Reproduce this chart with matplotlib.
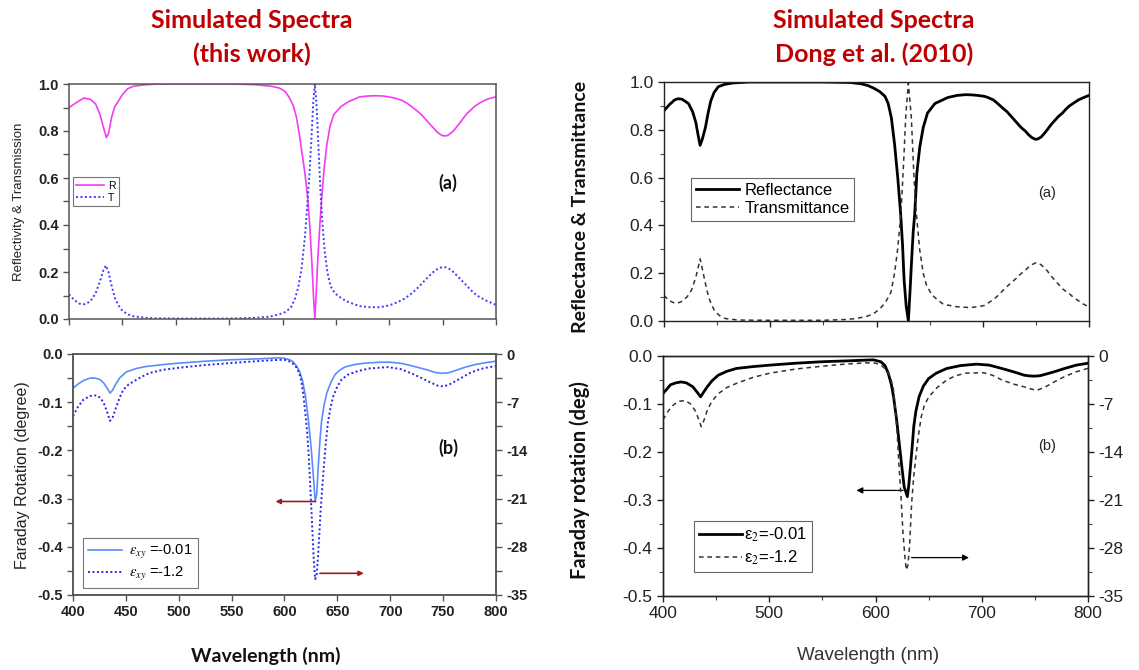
import matplotlib
matplotlib.use('Agg')
import matplotlib.pyplot as plt
from matplotlib.ticker import MultipleLocator, FixedLocator, FormatStrFormatter
from matplotlib.lines import Line2D

plt.rcParams['font.family'] = ['Liberation Sans', 'DejaVu Sans']
plt.rcParams['mathtext.fontset'] = 'stix'
plt.rcParams['axes.unicode_minus'] = False

# ---------------- data: this work ----------------
wl_R_this = [400, 405, 410, 414, 420, 425, 429, 432, 435, 437, 440, 443, 446, 450, 455, 460, 470, 480,
             500, 550, 575, 590, 597, 602, 606, 610, 613, 616, 618.5, 621, 623.5, 625.5, 627.5, 629,
             630.3, 631.5, 633, 635, 637, 639, 641.5, 644.5, 648, 655, 662, 672, 680, 687, 694, 700,
             706, 712, 717, 722, 726, 730, 734, 738, 742, 745, 748, 750, 753, 755, 758, 760, 764, 767,
             770, 773, 777, 780, 785, 790, 795, 800]
R_this = [0.90, 0.915, 0.93, 0.94, 0.935, 0.915, 0.87, 0.82, 0.772, 0.79, 0.86, 0.905, 0.925, 0.955,
          0.98, 0.99, 0.996, 0.999, 1.0, 1.0, 0.997, 0.99, 0.983, 0.97, 0.945, 0.91, 0.86, 0.78, 0.70,
          0.62, 0.52, 0.40, 0.24, 0.10, 0.0, 0.10, 0.25, 0.40, 0.53, 0.64, 0.74, 0.82, 0.87, 0.905,
          0.925, 0.945, 0.949, 0.95, 0.949, 0.945, 0.939, 0.93, 0.917, 0.90, 0.886, 0.87, 0.85, 0.83,
          0.81, 0.795, 0.785, 0.78, 0.779, 0.782, 0.792, 0.80, 0.822, 0.84, 0.858, 0.875, 0.892, 0.905,
          0.92, 0.932, 0.94, 0.945]

wl_T_this = [400, 405, 410, 415, 420, 425, 429, 432, 434.5, 437, 440, 443, 446, 450, 455, 460, 470, 480,
             500, 550, 575, 588, 597, 603, 608, 612, 615, 618, 621, 623, 625, 627, 628.8, 630.3, 631.8,
             633.5, 635.5, 637.5, 639.5, 642, 645, 649, 653, 660, 672, 682, 691, 700, 708, 714, 720,
             725, 730, 735, 740, 743, 747, 750, 753, 755, 758, 760, 764, 768, 772, 775, 779, 782, 786,
             790, 795, 800]
T_this = [0.105, 0.08, 0.065, 0.063, 0.075, 0.11, 0.16, 0.205, 0.228, 0.20, 0.14, 0.09, 0.06, 0.035,
          0.02, 0.012, 0.006, 0.003, 0.002, 0.002, 0.005, 0.01, 0.02, 0.03, 0.05, 0.09, 0.14, 0.22,
          0.35, 0.47, 0.60, 0.76, 0.92, 1.0, 0.92, 0.75, 0.55, 0.40, 0.29, 0.20, 0.14, 0.11, 0.095,
          0.075, 0.055, 0.05, 0.05, 0.058, 0.072, 0.086, 0.105, 0.125, 0.148, 0.172, 0.195, 0.207,
          0.217, 0.221, 0.22, 0.217, 0.208, 0.20, 0.182, 0.163, 0.145, 0.13, 0.112, 0.10, 0.09, 0.08,
          0.07, 0.06]

wl_F1_this = [400, 405, 410, 416, 421, 425.5, 429, 432, 435, 437.5, 440, 444, 450.5, 460, 469, 485, 500,
              525, 549, 575, 595, 600, 605, 608, 611, 614, 617, 620, 622.5, 625, 627, 629, 630.5, 632,
              633.5, 635, 637.5, 640, 644, 648, 652, 657, 666, 676, 690, 700, 712, 723, 735, 742, 748,
              755, 762, 770, 780, 790, 800]
F1_this = [-0.071, -0.062, -0.055, -0.050, -0.050, -0.053, -0.060, -0.070, -0.081, -0.075, -0.064,
           -0.050, -0.037, -0.030, -0.026, -0.022, -0.019, -0.015, -0.012, -0.010, -0.008, -0.009,
           -0.012, -0.016, -0.024, -0.035, -0.055, -0.090, -0.135, -0.19, -0.245, -0.306, -0.29,
           -0.23, -0.18, -0.14, -0.105, -0.081, -0.058, -0.042, -0.034, -0.027, -0.022, -0.019,
           -0.017, -0.017, -0.020, -0.026, -0.033, -0.038, -0.040, -0.039, -0.034, -0.028, -0.022,
           -0.018, -0.015]

wl_F2_this = [400, 405, 410, 416, 422.5, 426, 429, 432, 435, 437.5, 440, 444, 447.5, 452, 457, 465,
              472.5, 485, 500, 525, 550, 573, 595, 600, 605, 608, 611, 614, 616, 618, 620, 621.5, 623,
              624.5, 626, 627.7, 629, 630.5, 631.7, 633, 634, 635.5, 637, 639, 641, 643.5, 646, 650,
              654, 660, 669, 680, 698, 710, 723, 731, 739, 745, 750, 755, 761, 768, 776, 785, 792, 800]
F2_this = [-9.0, -7.6, -6.6, -6.1, -6.0, -6.4, -7.1, -8.3, -9.7, -9.2, -8.1, -6.4, -5.2, -4.5, -4.0,
           -3.3, -2.75, -2.3, -2.0, -1.6, -1.3, -1.05, -0.85, -0.85, -1.1, -1.4, -1.9, -2.8, -4.0,
           -6.2, -9.0, -11.5, -15.0, -19.6, -24.5, -30.0, -32.7, -32.0, -29.4, -26.0, -23.1, -19.8,
           -16.8, -13.0, -10.0, -7.8, -6.2, -4.7, -3.7, -3.0, -2.5, -2.1, -1.9, -2.2, -3.0, -3.6,
           -4.2, -4.6, -4.7, -4.5, -4.0, -3.4, -2.7, -2.2, -1.95, -1.75]

# ---------------- data: Dong et al. (2010) ----------------
wl_R_dong = [400, 405, 410, 413, 417, 423, 427, 430, 432, 434, 436, 439, 441.5, 444, 447, 451, 457, 465,
             480, 500, 550, 575, 585, 592, 597, 603, 608, 611, 614, 617, 620, 622.7, 624.5, 626, 628,
             630, 631.5, 633, 634.5, 636, 638, 640.8, 644, 648, 655, 667, 676, 684, 690, 695, 701.6,
             705, 710, 714, 719, 723, 728, 732, 736, 740, 743, 746, 749.6, 752, 755, 758, 760.7, 764,
             768, 771, 775, 778, 781.6, 785, 790, 795, 800]
R_dong = [0.88, 0.905, 0.925, 0.93, 0.928, 0.91, 0.875, 0.83, 0.78, 0.735, 0.76, 0.81, 0.87, 0.92,
          0.955, 0.98, 0.99, 0.996, 1.0, 1.0, 1.0, 0.998, 0.993, 0.985, 0.975, 0.96, 0.94, 0.91, 0.85,
          0.74, 0.60, 0.45, 0.32, 0.17, 0.06, 0.0, 0.12, 0.25, 0.37, 0.45, 0.62, 0.73, 0.81, 0.87,
          0.91, 0.935, 0.944, 0.947, 0.946, 0.944, 0.94, 0.935, 0.925, 0.91, 0.89, 0.875, 0.85, 0.83,
          0.81, 0.795, 0.78, 0.768, 0.76, 0.762, 0.77, 0.785, 0.80, 0.82, 0.84, 0.855, 0.87, 0.885,
          0.90, 0.91, 0.925, 0.935, 0.944]

wl_T_dong = [400, 405, 411, 416, 421.6, 426, 430, 432.5, 434, 436, 439, 442, 445, 448, 453, 458, 470,
             500, 550, 570, 580, 590, 597, 603, 608, 613.6, 617, 619.9, 623, 625.5, 627.7, 630, 632.8,
             635.3, 637.5, 640.6, 644, 647, 652, 657, 662.9, 675, 688, 696, 701.6, 705, 710, 714, 719,
             723, 728, 732, 736, 740, 743, 746, 749.6, 752, 755, 758, 760.7, 764, 768, 771, 775, 778,
             781.6, 785, 790, 795, 800]
T_dong = [0.107, 0.085, 0.073, 0.08, 0.10, 0.13, 0.184, 0.23, 0.26, 0.22, 0.156, 0.10, 0.065, 0.04,
          0.02, 0.01, 0.004, 0.003, 0.003, 0.006, 0.01, 0.018, 0.03, 0.05, 0.075, 0.12, 0.20, 0.30,
          0.45, 0.66, 0.87, 0.996, 0.85, 0.60, 0.45, 0.30, 0.20, 0.15, 0.11, 0.09, 0.07, 0.06, 0.056,
          0.06, 0.065, 0.075, 0.09, 0.105, 0.128, 0.145, 0.165, 0.18, 0.198, 0.212, 0.225, 0.235,
          0.243, 0.242, 0.235, 0.222, 0.21, 0.19, 0.17, 0.155, 0.135, 0.125, 0.114, 0.10, 0.085,
          0.07, 0.059]

wl_F1_dong = [400, 404, 407, 412, 417, 422, 428, 432, 435.4, 438, 441.7, 446, 452, 460, 469, 485, 500.7,
              525, 549, 575, 598, 605, 609, 612, 615, 617, 620, 622, 625, 627, 630, 631.3, 632.6, 634.5,
              636, 638, 641, 645, 650, 657, 667, 680, 695, 707, 719, 730, 740, 745, 750, 755, 760, 768,
              778, 789, 800]
F1_dong = [-0.078, -0.068, -0.060, -0.056, -0.054, -0.056, -0.064, -0.075, -0.085, -0.076, -0.064,
           -0.052, -0.040, -0.032, -0.026, -0.022, -0.019, -0.015, -0.012, -0.010, -0.008, -0.012,
           -0.020, -0.036, -0.060, -0.085, -0.135, -0.175, -0.235, -0.273, -0.293, -0.27, -0.238,
           -0.19, -0.147, -0.115, -0.085, -0.063, -0.047, -0.036, -0.026, -0.020, -0.017, -0.019,
           -0.026, -0.033, -0.040, -0.0415, -0.042, -0.041, -0.038, -0.033, -0.026, -0.019, -0.015]

wl_F2_dong = [400, 405, 410, 415, 421, 426, 430, 433, 436, 439, 441.7, 446, 452, 460, 469, 485, 500.7,
              525, 549, 570, 591, 600, 605, 610, 614, 617, 619, 620.5, 622, 624, 625.7, 627.5, 629,
              630.5, 632, 634, 636, 638, 640.5, 643, 646, 650, 658, 667, 675, 684.7, 702, 710, 719, 730,
              740, 746, 752, 760, 768, 778, 789, 800]
F2_dong = [-9.3, -8.0, -7.1, -6.6, -6.5, -7.0, -7.9, -9.0, -10.3, -9.2, -7.9, -6.6, -5.5, -4.6, -4.0,
           -3.1, -2.5, -1.9, -1.5, -1.2, -1.0, -1.05, -1.3, -2.0, -3.0, -5.0, -8.3, -11.5, -15.7, -20.5,
           -25.4, -29.0, -31.2, -30.5, -27.9, -21.5, -17.5, -14.7, -11.5, -8.9, -7.2, -6.0, -4.6, -3.5,
           -2.9, -2.5, -2.45, -2.8, -3.5, -4.1, -4.5, -4.8, -5.0, -4.5, -3.8, -3.0, -2.3, -1.8]

# tick labels
x_ticks_this = [400, 450, 500, 550, 600, 650, 700, 750, 800]
x_ticks_dong = [400, 500, 600, 700, 800]
rt_ticks = [0, -7, -14, -21, -28, -35]

# ---------------- figure ----------------
W, H = 1139, 670
fig = plt.figure(figsize=(W / 100, H / 100), dpi=100)


def box(x0, x1, ytop, ybot):
    return [x0 / W, 1 - ybot / H, (x1 - x0) / W, (ybot - ytop) / H]


def fx(x):
    return x / W


def fy(y):
    return 1 - y / H


C_R = '#F23CF2'
C_T = '#3C3CFA'
C_F1 = '#5B8CFA'
C_F2 = '#2626E6'
C_ARR = '#9A1C1C'
C_TITLE = '#C00000'
SP_L = '#555555'

# ===== Left (a) =====
axla = fig.add_axes(box(69, 496, 84, 319))
axla.plot(wl_R_this, R_this, color=C_R, lw=1.2, label='R')
axla.plot(wl_T_this, T_this, color=C_T, lw=1.4, ls=(0, (1, 1.3)), label='T')
axla.set_xlim(400, 800)
axla.set_ylim(0, 1.0)
axla.xaxis.set_major_locator(FixedLocator(x_ticks_this))
axla.set_xticklabels([])
axla.yaxis.set_major_locator(MultipleLocator(0.2))
axla.yaxis.set_minor_locator(MultipleLocator(0.1))
axla.tick_params(axis='both', which='both', direction='out', colors=SP_L, labelcolor='#222222',
                 length=4, width=1.0)
axla.tick_params(axis='y', labelsize=10.5)
for lab in axla.get_yticklabels():
    lab.set_fontweight('bold')
for s in axla.spines.values():
    s.set_color(SP_L)
    s.set_linewidth(1.1)
leg = axla.legend(loc='upper left', bbox_to_anchor=(0.009, 0.604), borderaxespad=0, fontsize=7.5,
                  frameon=True, fancybox=False, edgecolor='#777777', framealpha=1, handlelength=2.6,
                  borderpad=0.35, labelspacing=0.2, handletextpad=0.4)
leg.get_frame().set_linewidth(0.8)

# ===== Left (b) =====
axlb = fig.add_axes(box(73, 496, 354, 595))
axlb.plot(wl_F1_this, F1_this, color=C_F1, lw=1.2)
axlb.set_xlim(400, 800)
axlb.set_ylim(-0.5, 0.0)
axlb.xaxis.set_major_locator(FixedLocator(x_ticks_this))
axlb.yaxis.set_major_locator(MultipleLocator(0.1))
axlb.yaxis.set_minor_locator(MultipleLocator(0.05))
axlb.yaxis.set_major_formatter(FormatStrFormatter('%.1f'))
axlb.tick_params(axis='both', which='both', direction='out', colors=SP_L, labelcolor='#222222',
                 length=4, width=1.0, labelsize=10.5)
for lab in axlb.get_yticklabels() + axlb.get_xticklabels():
    lab.set_fontweight('bold')
for s in axlb.spines.values():
    s.set_color(SP_L)
    s.set_linewidth(1.1)
axlb2 = axlb.twinx()
axlb2.plot(wl_F2_this, F2_this, color=C_F2, lw=1.4, ls=(0, (1, 1.3)))
axlb2.set_ylim(-35, 0)
axlb2.yaxis.set_major_locator(FixedLocator(rt_ticks))
axlb2.yaxis.set_minor_locator(MultipleLocator(3.5))
axlb2.tick_params(axis='y', which='both', direction='out', colors=SP_L, labelcolor='#222222',
                  length=4, width=1.0, labelsize=10.5)
for lab in axlb2.get_yticklabels():
    lab.set_fontweight('bold')
for s in axlb2.spines.values():
    s.set_color(SP_L)
    s.set_linewidth(1.1)
h1 = Line2D([], [], color=C_F1, lw=1.2)
h2 = Line2D([], [], color=C_F2, lw=1.4, ls=(0, (1, 1.3)))
leg2 = axlb2.legend([h1, h2], [r'$\varepsilon_{xy}$ =-0.01', r'$\varepsilon_{xy}$ =-1.2'],
                    loc='lower left', bbox_to_anchor=(0.024, 0.029), borderaxespad=0, fontsize=10.5,
                    frameon=True, fancybox=False, edgecolor='#777777', framealpha=1, handlelength=2.3,
                    borderpad=0.35, labelspacing=0.25, handletextpad=0.5)
leg2.get_frame().set_linewidth(0.8)
axlb.annotate('', xy=(591.5, -0.306), xytext=(629.5, -0.306),
              arrowprops=dict(arrowstyle='-|>', color=C_ARR, lw=1.2, mutation_scale=7,
                              shrinkA=0, shrinkB=0))
axlb.annotate('', xy=(675, -0.455), xytext=(633.5, -0.455),
              arrowprops=dict(arrowstyle='-|>', color=C_ARR, lw=1.2, mutation_scale=7,
                              shrinkA=0, shrinkB=0))

# ===== Right (a) =====
axra = fig.add_axes(box(664, 1089, 82, 321))
axra.plot(wl_R_dong, R_dong, color='black', lw=2.0, label='Reflectance')
axra.plot(wl_T_dong, T_dong, color='#333333', lw=1.1, ls=(0, (3, 2.5)), label='Transmittance')
axra.set_xlim(400, 800)
axra.set_ylim(0, 1.0)
axra.xaxis.set_major_locator(FixedLocator(x_ticks_dong))
axra.xaxis.set_minor_locator(MultipleLocator(50))
axra.set_xticklabels([])
axra.yaxis.set_major_locator(MultipleLocator(0.2))
axra.yaxis.set_minor_locator(MultipleLocator(0.1))
axra.yaxis.set_major_formatter(FormatStrFormatter('%.1f'))
axra.tick_params(axis='both', which='major', direction='out', length=4, width=1.0, labelsize=12.5,
                 colors='#222222')
axra.tick_params(axis='both', which='minor', direction='out', length=3, width=0.8, colors='#444444')
for s in axra.spines.values():
    s.set_linewidth(1.0)
    s.set_color('#222222')
leg3 = axra.legend(loc='upper left', bbox_to_anchor=(0.0635, 0.598), borderaxespad=0, fontsize=12,
                   frameon=True, fancybox=False, edgecolor='#666666', framealpha=1, handlelength=2.6,
                   borderpad=0.3, labelspacing=0.15, handletextpad=0.3)
leg3.get_frame().set_linewidth(0.8)

# ===== Right (b) =====
axrb = fig.add_axes(box(663, 1088, 356, 596))
axrb.plot(wl_F1_dong, F1_dong, color='black', lw=2.0)
axrb.set_xlim(400, 800)
axrb.set_ylim(-0.5, 0.0)
axrb.xaxis.set_major_locator(FixedLocator(x_ticks_dong))
axrb.xaxis.set_minor_locator(MultipleLocator(50))
axrb.yaxis.set_major_locator(MultipleLocator(0.1))
axrb.yaxis.set_minor_locator(MultipleLocator(0.05))
axrb.yaxis.set_major_formatter(FormatStrFormatter('%.1f'))
axrb.tick_params(axis='both', which='major', direction='out', length=4, width=1.0, labelsize=12.5,
                 colors='#222222')
axrb.tick_params(axis='both', which='minor', direction='out', length=3, width=0.8, colors='#444444')
for s in axrb.spines.values():
    s.set_linewidth(1.0)
    s.set_color('#222222')
axrb2 = axrb.twinx()
axrb2.plot(wl_F2_dong, F2_dong, color='#333333', lw=1.1, ls=(0, (3, 2.5)))
axrb2.set_ylim(-35, 0)
axrb2.yaxis.set_major_locator(FixedLocator(rt_ticks))
axrb2.yaxis.set_minor_locator(MultipleLocator(3.5))
axrb2.tick_params(axis='y', which='major', direction='out', length=4, width=1.0, labelsize=12.5,
                  colors='#222222')
axrb2.tick_params(axis='y', which='minor', direction='out', length=3, width=0.8, colors='#444444')
for s in axrb2.spines.values():
    s.set_linewidth(1.0)
    s.set_color('#222222')
h3 = Line2D([], [], color='black', lw=2.0)
h4 = Line2D([], [], color='#333333', lw=1.1, ls=(0, (3, 2.5)))
leg4 = axrb2.legend([h3, h4], [r'ε$_2$=-0.01', r'ε$_2$=-1.2'], loc='upper left',
                    bbox_to_anchor=(0.072, 0.3125), borderaxespad=0, fontsize=12, frameon=True,
                    fancybox=False, edgecolor='#666666', framealpha=1, handlelength=2.6,
                    borderpad=0.3, labelspacing=0.25, handletextpad=0.1)
leg4.get_frame().set_linewidth(0.8)
axrb.annotate('', xy=(582, -0.28), xytext=(626, -0.28),
              arrowprops=dict(arrowstyle='-|>', color='black', lw=0.9, mutation_scale=9,
                              shrinkA=0, shrinkB=0))
axrb.annotate('', xy=(688, -0.42), xytext=(634, -0.42),
              arrowprops=dict(arrowstyle='-|>', color='black', lw=0.9, mutation_scale=9,
                              shrinkA=0, shrinkB=0))

# ===== panel tags =====
fig.text(fx(448), fy(183), '(a)', fontsize=13, fontweight='bold', ha='center', va='center',
         family='Lato', color='#111111')
fig.text(fx(448), fy(448), '(b)', fontsize=13, fontweight='bold', ha='center', va='center',
         family='Lato', color='#111111')
fig.text(fx(1047), fy(193), '(a)', fontsize=10.5, ha='center', va='center', color='#222222')
fig.text(fx(1047), fy(446), '(b)', fontsize=10.5, ha='center', va='center', color='#222222')

# ===== axis labels and titles =====
fig.text(fx(19), fy(202), 'Reflectivity & Transmission', rotation=90, ha='center', va='center',
         fontsize=9.5, color='#222222')
fig.text(fx(23), fy(475), 'Faraday Rotation (degree)', rotation=90, ha='center', va='center',
         fontsize=11.5, color='#222222')
fig.text(fx(266), fy(656), 'Wavelength (nm)', ha='center', va='center', fontsize=14,
         fontweight='bold', family='Lato', color='#111111')

fig.text(fx(580), fy(207), 'Reflectance & Transmittance', rotation=90, ha='center', va='center',
         fontsize=14, fontweight='bold', family='Lato', color='#111111')
fig.text(fx(580), fy(480), 'Faraday rotation (deg)', rotation=90, ha='center', va='center',
         fontsize=14.5, fontweight='bold', family='Lato', color='#111111')
fig.text(fx(868), fy(655), 'Wavelength (nm)', ha='center', va='center', fontsize=13.5,
         color='#333333')

for cx, line2 in ((252, '(this work)'), (874, 'Dong et al. (2010)')):
    fig.text(fx(cx), fy(20), 'Simulated Spectra', ha='center', va='center', fontsize=18,
             fontweight='bold', family='Lato', color=C_TITLE)
    fig.text(fx(cx), fy(54), line2, ha='center', va='center', fontsize=18,
             fontweight='bold', family='Lato', color=C_TITLE)

fig.savefig('out.png', dpi=100)
